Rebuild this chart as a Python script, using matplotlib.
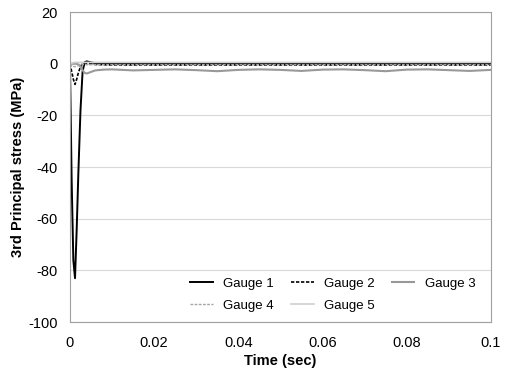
import matplotlib.pyplot as plt

plt.rcParams['font.family'] = ['Liberation Sans', 'DejaVu Sans']
plt.rcParams['axes.unicode_minus'] = False

time = [0, 0.0004, 0.0008, 0.0012, 0.0016, 0.002, 0.0025, 0.003, 0.0035, 0.004,
        0.005, 0.006, 0.008, 0.01, 0.015, 0.02, 0.025, 0.03, 0.035, 0.04,
        0.045, 0.05, 0.055, 0.06, 0.065, 0.07, 0.075, 0.08, 0.085, 0.09,
        0.095, 0.1]

gauge1 = [0, -45, -76, -83, -64, -42, -18, -3, 0.6, 0.9, 0.5, 0.2, 0.1, 0, 0, 0,
          0, 0, 0, 0, 0, 0, 0, 0, 0, 0, 0, 0, 0, 0, 0, 0]
gauge2 = [0, -3, -6, -8, -6, -3.5, -1.2, 0, 0.3, 0.2, 0, -0.3, -0.4, -0.5, -0.5, -0.5,
          -0.5, -0.5, -0.5, -0.5, -0.5, -0.5, -0.5, -0.5, -0.5, -0.5, -0.5, -0.5,
          -0.5, -0.5, -0.5, -0.5]
gauge3 = [0, 0, 0, 0, 0, -0.3, -1.2, -2.5, -3.6, -3.8, -3.2, -2.6, -2.3, -2.2, -2.6, -2.4,
          -2.2, -2.5, -2.9, -2.4, -2.2, -2.4, -2.8, -2.3, -2.2, -2.5, -2.9, -2.3,
          -2.2, -2.5, -2.8, -2.4]
gauge4 = [0, -0.5, -1.0, -1.2, -1.0, -0.7, -0.5, -0.4, -0.4, -0.4, -0.4, -0.4, -0.4, -0.4,
          -0.4, -0.4, -0.4, -0.4, -0.4, -0.4, -0.4, -0.4, -0.4, -0.4, -0.4, -0.4,
          -0.4, -0.4, -0.4, -0.4, -0.4, -0.4]
gauge5 = [0, 0.2, 0.4, 0.5, 0.5, 0.5, 0.5, 0.5, 0.5, 0.5, 0.5, 0.5, 0.5, 0.5, 0.5, 0.5,
          0.5, 0.5, 0.5, 0.5, 0.5, 0.5, 0.5, 0.5, 0.5, 0.5, 0.5, 0.5, 0.5, 0.5,
          0.5, 0.5]

fig = plt.figure(figsize=(5.07, 3.75), dpi=100)
ax = fig.add_axes([0.138, 0.141, 0.83, 0.827])

l1, = ax.plot(time, gauge1, color='black', linestyle='-', linewidth=1.4, label='Gauge 1')
l2, = ax.plot(time, gauge2, color='black', linestyle=(0, (2, 1)), linewidth=1.2, label='Gauge 2')
l3, = ax.plot(time, gauge3, color='#999999', linestyle='-', linewidth=1.5, label='Gauge 3')
l4, = ax.plot(time, gauge4, color='#a6a6a6', linestyle=(0, (2, 1)), linewidth=1.0, label='Gauge 4')
l5, = ax.plot(time, gauge5, color='#d0d0d0', linestyle='-', linewidth=1.2, label='Gauge 5')

ax.set_xlim(0, 0.1)
ax.set_ylim(-100, 20)
ax.set_xticks([0, 0.02, 0.04, 0.06, 0.08, 0.1])
ax.set_xticklabels(['0', '0.02', '0.04', '0.06', '0.08', '0.1'])
ax.set_yticks(range(-100, 21, 20))
ax.tick_params(length=0, labelsize=10.5)
ax.tick_params(axis='x', pad=10)
ax.tick_params(axis='y', pad=9)
ax.grid(axis='y', color='#d9d9d9', linewidth=0.8)
ax.set_axisbelow(True)
for s in ax.spines.values():
    s.set_color('#a0a0a0')

ax.set_xlabel('Time (sec)', fontsize=10.5, fontweight='bold', labelpad=3)
ax.set_ylabel('3rd Principal stress (MPa)', fontsize=10.5, fontweight='bold', labelpad=2)

# row-wise order: matplotlib fills legend columns first
handles = [l1, l4, l2, l5, l3]
ax.legend(handles=handles, labels=[h.get_label() for h in handles], ncol=3,
          loc='center', bbox_to_anchor=(0.625, 0.088), frameon=False,
          fontsize=9.5, handlelength=1.7, handletextpad=0.8, columnspacing=1.3,
          labelspacing=0.75)

plt.savefig('out.png', dpi=100)
